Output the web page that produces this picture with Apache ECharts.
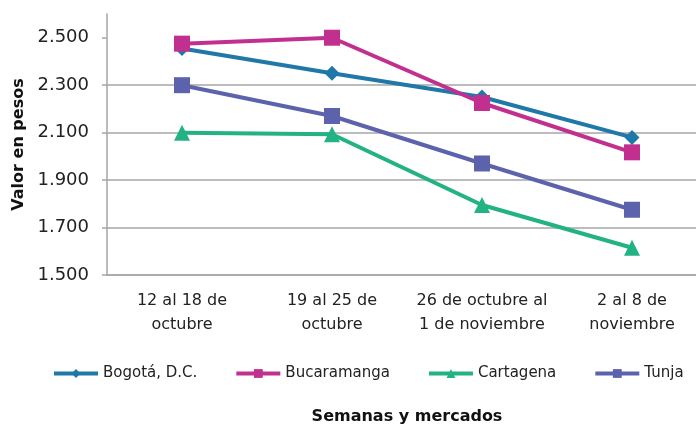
<!DOCTYPE html>
<html>
<head>
<meta charset="utf-8">
<script src="https://cdn.jsdelivr.net/npm/echarts@6/dist/echarts.min.js"></script>
<style>
  html, body { margin: 0; padding: 0; background: #fff; }
  #chart { width: 696px; height: 424px; }
</style>
</head>
<body>
<div id="chart"></div>
<script>
const categories = ['12 al 18 de\noctubre', '19 al 25 de\noctubre', '26 de octubre al\n1 de noviembre', '2 al 8 de\nnoviembre'];
const seriesNames = ['Bogotá, D.C.', 'Bucaramanga', 'Cartagena', 'Tunja'];
const bogota = [2455, 2350, 2250, 2080];
const bucaramanga = [2475, 2500, 2225, 2017];
const cartagena = [2100, 2093, 1795, 1615];
const tunja = [2300, 2170, 1970, 1775];
const yTicks = [1500, 1700, 1900, 2100, 2300, 2500];

const FONT = 'DejaVu Sans';
const chart = echarts.init(document.getElementById('chart'));

function line(name, data, color, symbol, size) {
  return {
    name: name,
    type: 'line',
    data: data,
    symbol: symbol,
    symbolSize: size,
    lineStyle: { color: color, width: 4 },
    itemStyle: { color: color },
    animation: false
  };
}

const option = {
  backgroundColor: '#fff',
  textStyle: { fontFamily: FONT },
  grid: { left: 107, right: -11, top: 14, bottom: 149, outerBoundsMode: 'none' },
  legend: {
    bottom: 38,
    left: 47,
    itemWidth: 44,
    itemHeight: 11,
    itemGap: 37,
    lineStyle: { width: 4 },
    textStyle: { fontFamily: FONT, fontSize: 15, color: '#222' },
    data: seriesNames
  },
  xAxis: {
    type: 'category',
    data: categories,
    name: 'Semanas y mercados',
    nameLocation: 'middle',
    nameGap: 134,
    nameTextStyle: { fontFamily: FONT, fontSize: 16, fontWeight: 'bold', color: '#111' },
    axisLine: { lineStyle: { color: '#a6a6a6', width: 1.5 } },
    axisTick: { show: false },
    axisLabel: { fontFamily: FONT, fontSize: 16, color: '#222', lineHeight: 24, margin: 14, interval: 0 }
  },
  yAxis: {
    type: 'value',
    min: 1500,
    max: 2600,
    interval: 200,
    name: 'Valor en pesos',
    nameLocation: 'middle',
    nameGap: 78,
    nameTextStyle: { fontFamily: FONT, fontSize: 16, fontWeight: 'bold', color: '#111' },
    axisLine: { show: true, lineStyle: { color: '#a6a6a6', width: 1.5 } },
    axisTick: { show: true, length: 5, customValues: yTicks, lineStyle: { color: '#a6a6a6', width: 1.5 } },
    splitLine: { showMaxLine: false, lineStyle: { color: '#a6a6a6', width: 1.5 } },
    axisLabel: {
      fontFamily: FONT, fontSize: 18, color: '#222', margin: 18,
      customValues: yTicks,
      formatter: v => v.toLocaleString('de-DE')
    }
  },
  series: [
    line(seriesNames[0], bogota, '#1f78a8', 'diamond', 15),
    line(seriesNames[1], bucaramanga, '#c2308f', 'rect', 16),
    line(seriesNames[2], cartagena, '#22b283', 'triangle', 16),
    line(seriesNames[3], tunja, '#5d62ad', 'rect', 16)
  ]
};

chart.setOption(option);
</script>
</body>
</html>
